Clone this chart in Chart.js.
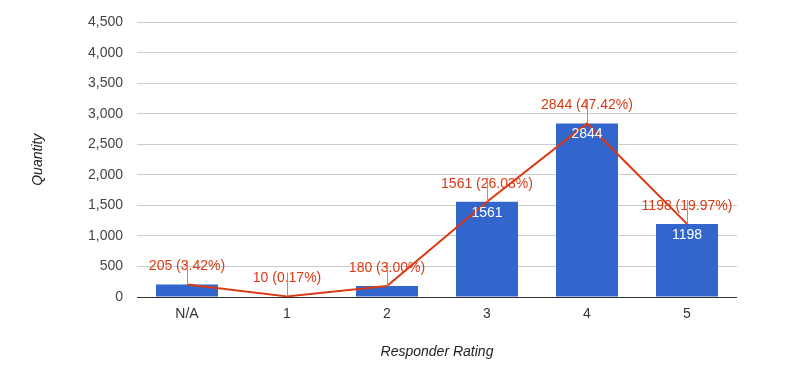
<!DOCTYPE html>
<html>
<head>
<meta charset="utf-8">
<script src="https://cdn.jsdelivr.net/npm/chart.js@4/dist/chart.umd.min.js"></script>
<style>
  html, body { margin: 0; padding: 0; background: #fff; }
  #wrap { width: 785px; height: 371px; }
</style>
</head>
<body>
<div id="wrap"><canvas id="ratingChart" width="785" height="371"></canvas></div>
<script>
// Dados
const ratings = ["N/A", "1", "2", "3", "4", "5"];
const counts = [205, 10, 180, 1561, 2844, 1198];
const percents = ["3.42%", "0.17%", "3.00%", "26.03%", "47.42%", "19.97%"];
const minBarLabel = 500; // barras pequenas ficam sem rotulo

const font = "Arial, 'Liberation Sans', sans-serif";

// Rotulos da linha (com haste) e rotulos brancos dentro das barras
const labelsPlugin = {
  id: "labels",
  afterDatasetsDraw(chart) {
    const ctx = chart.ctx;
    const barMeta = chart.getDatasetMeta(0);
    const lineMeta = chart.getDatasetMeta(1);
    ctx.save();
    ctx.textAlign = "center";
    ctx.textBaseline = "middle";

    ctx.font = "14px " + font;
    ctx.fillStyle = "#ffffff";
    barMeta.data.forEach((bar, i) => {
      if (counts[i] < minBarLabel) return;
      ctx.fillText(String(counts[i]), bar.x, bar.y + 11);
    });

    lineMeta.data.forEach((pt, i) => {
      ctx.fillStyle = "#dc3912";
      ctx.fillText(counts[i] + " (" + percents[i] + ")", pt.x, pt.y - 18);
      ctx.strokeStyle = "#999999";
      ctx.lineWidth = 1;
      ctx.beginPath();
      ctx.moveTo(Math.round(pt.x) + 0.5, pt.y);
      ctx.lineTo(Math.round(pt.x) + 0.5, pt.y - 24);
      ctx.stroke();
    });
    ctx.restore();
  },
};

const chartCtx = document.getElementById("ratingChart").getContext("2d");
new Chart(chartCtx, {
  type: "bar",
  data: {
    labels: ratings,
    datasets: [
      {
        type: "bar",
        label: "Quantity",
        data: counts,
        backgroundColor: "#3366cc",
        barPercentage: 0.62,
        categoryPercentage: 1,
        order: 1,
      },
      {
        type: "line",
        label: "Share",
        data: counts,
        borderColor: "#dc3912",
        borderWidth: 2,
        pointRadius: 0,
        tension: 0,
        order: 0,
      },
    ],
  },
  options: {
    responsive: false,
    animation: false,
    layout: { padding: { top: 20, right: 48, bottom: 0, left: 0 } },
    plugins: {
      legend: { display: false },
      tooltip: { enabled: false },
    },
    scales: {
      x: {
        grid: { display: false, drawTicks: false },
        border: { display: false },
        ticks: { color: "#333", padding: 9, font: { family: font, size: 14 } },
        title: {
          display: true,
          text: "Responder Rating",
          color: "#222",
          font: { family: font, size: 14, style: "italic" },
          padding: { top: 0, bottom: 10 },
        },
        afterFit(scale) {
          scale.height = 74;
        },
      },
      y: {
        min: 0,
        max: 4500,
        ticks: {
          stepSize: 500,
          color: "#444",
          padding: 14,
          font: { family: font, size: 14 },
        },
        grid: {
          drawTicks: false,
          color: (c) => (c.tick && c.tick.value === 0 ? "#333333" : "#cccccc"),
        },
        border: { display: false },
        title: {
          display: true,
          text: "Quantity",
          color: "#222",
          font: { family: font, size: 14, style: "italic" },
          padding: { top: 30, bottom: 0 },
        },
        afterFit(scale) {
          scale.width = 137;
        },
      },
    },
  },
  plugins: [labelsPlugin],
});
</script>
</body>
</html>
